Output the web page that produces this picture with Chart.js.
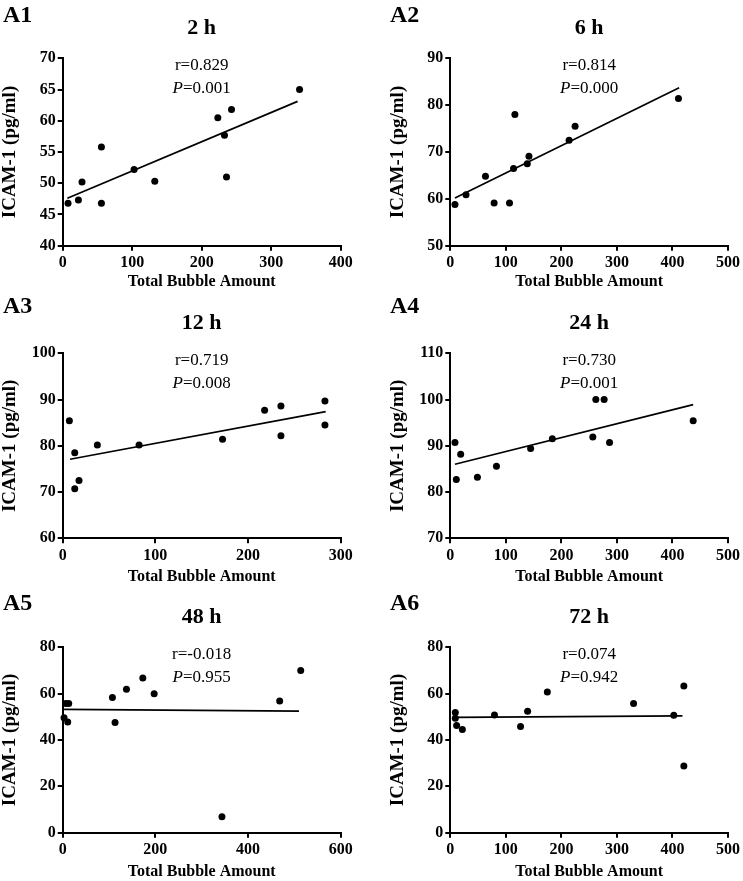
<!DOCTYPE html>
<html lang="en">
<head>
<meta charset="UTF-8">
<title>ICAM-1 vs Total Bubble Amount</title>
<script src="https://cdn.jsdelivr.net/npm/chart.js"></script>
<style>
  body { margin: 0; background: #ffffff; }
  .cell { position: absolute; }
</style>
</head>
<body>
<div id="wrap"></div>
<script>
// panel text
const panelLabels = ['A1', 'A2', 'A3', 'A4', 'A5', 'A6'];
const panelTitles = ['2 h', '6 h', '12 h', '24 h', '48 h', '72 h'];
const rValues = ['0.829', '0.814', '0.719', '0.730', '-0.018', '0.074'];
const pValues = ['0.001', '0.000', '0.008', '0.001', '0.955', '0.942'];

// axis ranges / tick steps
const xMax = [400, 500, 300, 500, 600, 500];
const xStep = [100, 100, 100, 100, 200, 100];
const yMin = [40, 50, 60, 70, 0, 0];
const yMax = [70, 90, 100, 110, 80, 80];
const yStep = [5, 10, 10, 10, 20, 20];

// A1 - 2 h
const a1X = [7.7, 22.6, 27.8, 55.7, 55.7, 102.7, 132.5, 223.2, 242.9, 232.8, 235.7, 340.8];
const a1Y = [46.8, 47.3, 50.2, 46.8, 55.8, 52.2, 50.3, 60.5, 61.8, 57.7, 51.0, 65.0];
const a1FitX = [6.7, 338];
const a1FitY = [47.6, 63.1];

// A2 - 6 h
const a2X = [8.4, 28.3, 63.3, 78.9, 106.6, 113.9, 116.3, 138.6, 141.6, 213.9, 224.7, 410.8];
const a2Y = [58.8, 60.9, 64.8, 59.1, 59.1, 66.5, 78.0, 67.5, 69.1, 72.5, 75.5, 81.4];
const a2FitX = [8.4, 412];
const a2FitY = [60.2, 83.7];

// A3 - 12 h
const a3X = [7.2, 13, 17.6, 13, 37.4, 82.4, 172.5, 217.9, 235.5, 235.5, 283, 283];
const a3Y = [85.4, 78.5, 72.5, 70.7, 80.2, 80.2, 81.4, 87.7, 88.6, 82.2, 89.7, 84.5];
const a3FitX = [7.9, 283.8];
const a3FitY = [77.1, 87.4];

// A4 - 24 h
const a4X = [8.4, 10.8, 18.7, 48.8, 83.1, 144.6, 183.7, 256.6, 262, 277, 286.7, 437.3];
const a4Y = [90.7, 82.7, 88.2, 83.2, 85.6, 89.4, 91.5, 91.9, 100, 100, 90.7, 95.4];
const a4FitX = [8.4, 437.3];
const a4FitY = [86.0, 98.9];

// A5 - 48 h
const a5X = [2.9, 6.5, 13, 10.8, 107.3, 113, 137.6, 172.9, 197.4, 343.7, 468.3, 513.7];
const a5Y = [49.6, 55.7, 55.7, 47.8, 58.3, 47.5, 61.9, 66.8, 60.0, 6.9, 56.8, 70.0];
const a5FitX = [2.9, 510];
const a5FitY = [53.2, 52.5];

// A6 - 72 h
const a6X = [9, 9, 11.4, 21.7, 79.5, 126.5, 139.2, 174.7, 330, 402.4, 420.5, 420.5];
const a6Y = [51.9, 49.4, 46.3, 44.5, 50.8, 45.8, 52.4, 60.7, 55.7, 50.7, 63.3, 28.8];
const a6FitX = [7.2, 418];
const a6FitY = [49.8, 50.4];

const seriesX = [a1X, a2X, a3X, a4X, a5X, a6X];
const seriesY = [a1Y, a2Y, a3Y, a4Y, a5Y, a6Y];
const fitX = [a1FitX, a2FitX, a3FitX, a4FitX, a5FitX, a6FitX];
const fitY = [a1FitY, a2FitY, a3FitY, a4FitY, a5FitY, a6FitY];

// grid of panels (pixel layout)
const cols = [
    { left: 0, width: 372, padLeft: 0, axisW: 62.7, padRight: 31.3, labelX: 3 },
    { left: 372, width: 371, padLeft: 16, axisW: 62.3, padRight: 15, labelX: 18 }
];
const rows = [
    { top: 0, height: 291, padTop: 58.3, axisH: 45.3, labelY: 16 },
    { top: 290, height: 296, padTop: 63.3, axisH: 47.7, labelY: 17 },
    { top: 590, height: 291, padTop: 57.3, axisH: 48.3, labelY: 14 }
];

const FONT = '"Liberation Serif", "Times New Roman", serif';

const toPoints = (xs, ys) => xs.map((x, i) => ({ x: x, y: ys[i] }));

// panel label, title, r and P text
const annotate = {
    id: 'annotate',
    afterDraw(chart, args, opts) {
        const { ctx, chartArea } = chart;
        const cx = (chartArea.left + chartArea.right) / 2;
        ctx.save();
        ctx.fillStyle = '#000';
        ctx.textBaseline = 'middle';

        ctx.textAlign = 'left';
        ctx.font = 'bold 24px ' + FONT;
        ctx.fillText(opts.label, opts.labelX, opts.labelY);

        ctx.textAlign = 'center';
        ctx.font = 'bold 22px ' + FONT;
        ctx.fillText(opts.title, cx, chartArea.top - 30);

        ctx.font = '17px ' + FONT;
        ctx.fillText('r=' + opts.r, cx, chartArea.top + 7);

        // "P" in italics, the rest upright
        const y = chartArea.top + 30;
        const rest = '=' + opts.p;
        ctx.font = 'italic 17px ' + FONT;
        const wP = ctx.measureText('P').width;
        ctx.font = '17px ' + FONT;
        const wRest = ctx.measureText(rest).width;
        const x0 = cx - (wP + wRest) / 2;
        ctx.textAlign = 'left';
        ctx.font = 'italic 17px ' + FONT;
        ctx.fillText('P', x0, y);
        ctx.font = '17px ' + FONT;
        ctx.fillText(rest, x0 + wP, y);
        ctx.restore();
    }
};

const wrap = document.getElementById('wrap');

for (let i = 0; i < 6; i++) {
    const col = cols[i % 2];
    const row = rows[Math.floor(i / 2)];

    const cell = document.createElement('div');
    cell.className = 'cell';
    cell.style.left = col.left + 'px';
    cell.style.top = row.top + 'px';
    cell.style.width = col.width + 'px';
    cell.style.height = row.height + 'px';
    const canvas = document.createElement('canvas');
    cell.appendChild(canvas);
    wrap.appendChild(cell);

    new Chart(canvas, {
        type: 'scatter',
        data: {
            datasets: [{
                data: toPoints(seriesX[i], seriesY[i]),
                pointRadius: 3.5,
                pointBackgroundColor: '#000',
                pointBorderWidth: 0,
                showLine: false,
                clip: false
            }, {
                data: toPoints(fitX[i], fitY[i]),
                showLine: true,
                borderColor: '#000',
                borderWidth: 1.7,
                pointRadius: 0,
                clip: false
            }]
        },
        options: {
            responsive: true,
            maintainAspectRatio: false,
            animation: false,
            layout: { padding: { left: col.padLeft, right: col.padRight, top: row.padTop, bottom: 0 } },
            plugins: {
                legend: { display: false },
                tooltip: { enabled: false },
                annotate: {
                    label: panelLabels[i], title: panelTitles[i],
                    r: rValues[i], p: pValues[i],
                    labelX: col.labelX, labelY: row.labelY
                }
            },
            scales: {
                x: {
                    type: 'linear',
                    min: 0, max: xMax[i],
                    afterFit: (s) => { s.height = row.axisH; },
                    grid: { drawOnChartArea: false, drawTicks: true, tickLength: 5, color: '#000', lineWidth: 2 },
                    border: { display: true, color: '#000', width: 2 },
                    ticks: {
                        stepSize: xStep[i], autoSkip: false, maxRotation: 0, padding: 3,
                        color: '#000', font: { family: FONT, size: 16, weight: 'bold' }
                    },
                    title: {
                        display: true, text: 'Total Bubble Amount', color: '#000',
                        padding: { top: 0, bottom: 0 },
                        font: { family: FONT, size: 16, weight: 'bold', lineHeight: 1.2 }
                    }
                },
                y: {
                    type: 'linear',
                    min: yMin[i], max: yMax[i],
                    afterFit: (s) => { s.width = col.axisW; },
                    grid: { drawOnChartArea: false, drawTicks: true, tickLength: 5, color: '#000', lineWidth: 2 },
                    border: { display: true, color: '#000', width: 2 },
                    ticks: {
                        stepSize: yStep[i], autoSkip: false, padding: 2,
                        color: '#000', font: { family: FONT, size: 16, weight: 'bold' }
                    },
                    title: {
                        display: true, text: 'ICAM-1 (pg/ml)', color: '#000',
                        padding: { top: 0, bottom: 0 },
                        font: { family: FONT, size: 19, weight: 'bold', lineHeight: 1.1 }
                    }
                }
            }
        },
        plugins: [annotate]
    });
}
</script>
</body>
</html>
